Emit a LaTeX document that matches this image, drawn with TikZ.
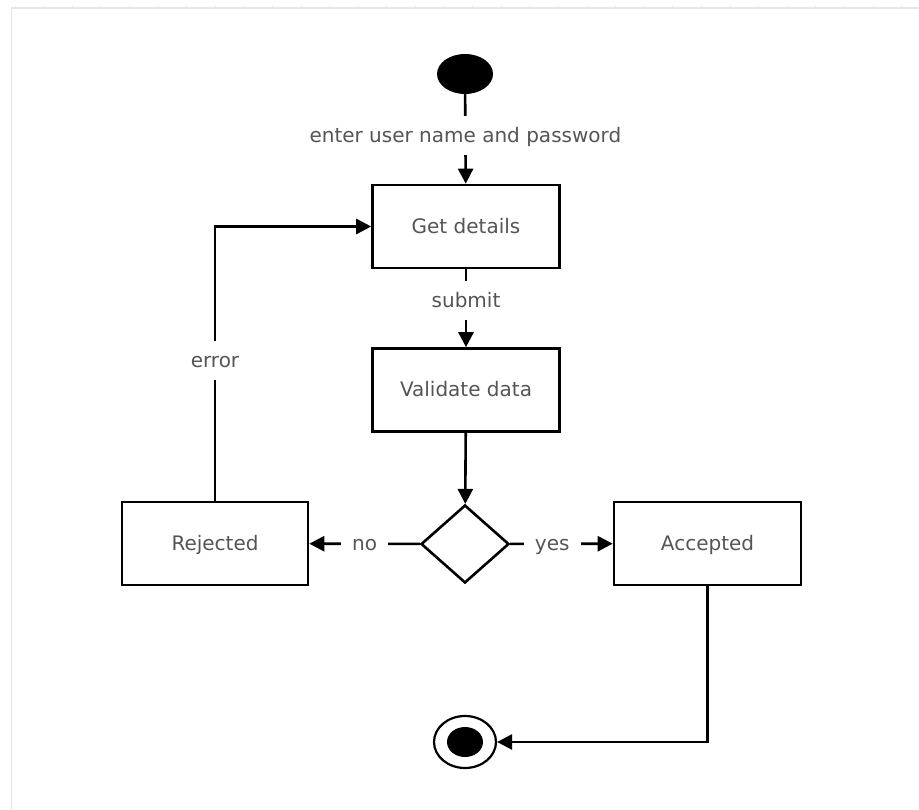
\documentclass[tikz,border=0pt]{standalone}
\usepackage{fontspec}
\setmainfont{DejaVu Sans}
\usetikzlibrary{shapes.geometric,arrows.meta}
\definecolor{txt}{HTML}{555555}
\definecolor{frame}{HTML}{E6E6E6}
\begin{document}
\begin{tikzpicture}[x=1pt,y=-1pt,
  every node/.style={font=\fontsize{20}{24}\selectfont},
  box/.style={draw=black,line width=2.6pt,minimum width=187pt,minimum height=83pt,text=txt,inner sep=0pt,text height=14.5pt,text depth=0.5pt},
  lbl/.style={fill=white,text=txt,inner xsep=11pt,inner ysep=12pt,text height=14.5pt,text depth=0.5pt},
  conn/.style={line width=2.6pt,draw=black},
  arr/.style={conn,-{Triangle[length=15pt,width=15pt]}}]
\useasboundingbox (0,0) rectangle (919,810);
\fill[white] (0,0) rectangle (919,810);
% faint canvas frame
\draw[frame,line width=1.5pt] (11.5,810) -- (11.5,8) -- (919,8);
\foreach \i in {0,...,31} \draw[frame,line width=1pt] (15+28.6*\i,6) -- (15+28.6*\i,8);
% nodes
\node[ellipse,fill=black,minimum width=56pt,minimum height=40pt,inner sep=0pt] (start) at (465,74) {};
\node[box] (get) at (466,226.5) {Get details};
\node[box] (val) at (466,390) {Validate data};
\node[diamond,draw=black,line width=2.6pt,minimum width=88pt,minimum height=78pt,inner sep=0pt] (dec) at (465,544) {};
\node[box,minimum width=186pt] (rej) at (215,543.5) {Rejected};
\node[box] (acc) at (707.5,543.5) {Accepted};
\node[ellipse,draw=black,line width=2.2pt,minimum width=62pt,minimum height=52pt,inner sep=0pt] (endo) at (465,742) {};
\node[ellipse,fill=black,minimum width=36pt,minimum height=30pt,inner sep=0pt] (endi) at (465,742) {};
% connectors
\draw[arr] (start) -- node[lbl,pos=0.46]{enter user name and password} (get);
\draw[arr] (get) -- node[lbl,pos=0.4]{submit} (val);
\draw[arr] (val) -- (dec);
\draw[arr] (dec) -- node[lbl,pos=0.5]{no} (rej);
\draw[arr] (dec) -- node[lbl,pos=0.41]{yes} (acc);
\draw[arr] (rej.north) |- node[lbl,pos=0.255]{error} (get.west);
\draw[arr] (acc.south) |- (endo.east);
\end{tikzpicture}
\end{document}
